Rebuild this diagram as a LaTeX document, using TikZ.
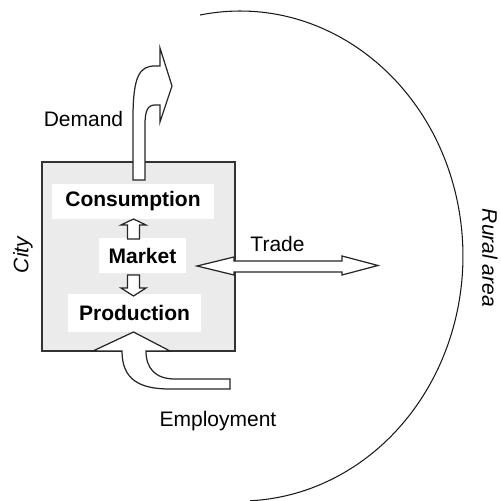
\documentclass[tikz,border=0pt]{standalone}
\usepackage{fontspec}
\setmainfont{Liberation Sans}
\usetikzlibrary{arrows}

\begin{document}
\begin{tikzpicture}[x=0.02cm,y=0.02cm,
    font=\fontsize{11.95pt}{14pt}\selectfont,
    stage/.style={fill=white,inner sep=0pt,font=\fontsize{11.95pt}{14pt}\selectfont\bfseries},
    blockarrow/.style={draw=black!85,fill=white,line width=0.7pt,line join=miter},
    side/.style={font=\fontsize{11.95pt}{14pt}\selectfont\itshape}]
    \useasboundingbox (0,0) rectangle (501,501);

    % Rural area
    \draw[line width=0.6pt,color=black!90] (200.1,486) arc [start angle=100.3, end angle=-87.4, x radius=223, y radius=245];

    % City
    \draw[fill=black!8,draw=black!80,line width=1pt] (42,150) rectangle (235,339);
    \node (cons) [stage,minimum width=3.24cm,minimum height=0.7cm] at (133,299.5) {Consumption};
    \node (mkt) [stage,minimum width=1.74cm,minimum height=0.7cm] at (142.5,245.5) {Market};
    \node (prod) [stage,minimum width=2.66cm,minimum height=0.76cm] at (134.5,188) {Production};

    % Market flows
    \draw[blockarrow] (133.5,282) -- (146,276) -- (139.5,276) -- (139.5,262)
        -- (127.5,262) -- (127.5,276) -- (121,276) -- cycle;
    \draw[blockarrow] (133.5,205) -- (146,213) -- (139.5,213) -- (139.5,226)
        -- (127.5,226) -- (127.5,213) -- (121,213) -- cycle;

    % Demand
    \draw[blockarrow] (133,321) -- (133,383) .. controls (133,426) and (140,435) .. (155,435)
        -- (160,435) -- (160,453) -- (172,415) -- (160,379) -- (160,396) -- (155,396)
        .. controls (148,396) and (145,391) .. (145,376) -- (145,321) -- cycle;

    % Employment
    \draw[blockarrow] (122,150) .. controls (122,121) and (140,112) .. (170,112)
        -- (230,112) -- (230,122) -- (175,122) .. controls (155,122) and (146,133) .. (146,150)
        -- (170,150) -- (133.5,169) -- (93,150) -- cycle;

    % Trade
    \draw[blockarrow] (197,235) -- (234,244) -- (234,240) -- (342,240) -- (342,245)
        -- (378,235.5) -- (342,226) -- (342,229) -- (234,229) -- (234,226) -- cycle;

    % Labels
    \node (demand) [anchor=base] at (83.5,374) {Demand};
    \node (trade) [anchor=base] at (277.5,249) {Trade};
    \node (employ) [anchor=base] at (218,74) {Employment};
    \node (city) [side,rotate=90] at (23,246) {City};
    \node (rural) [side,rotate=-90] at (490,243) {Rural area};

\end{tikzpicture}
\end{document}
